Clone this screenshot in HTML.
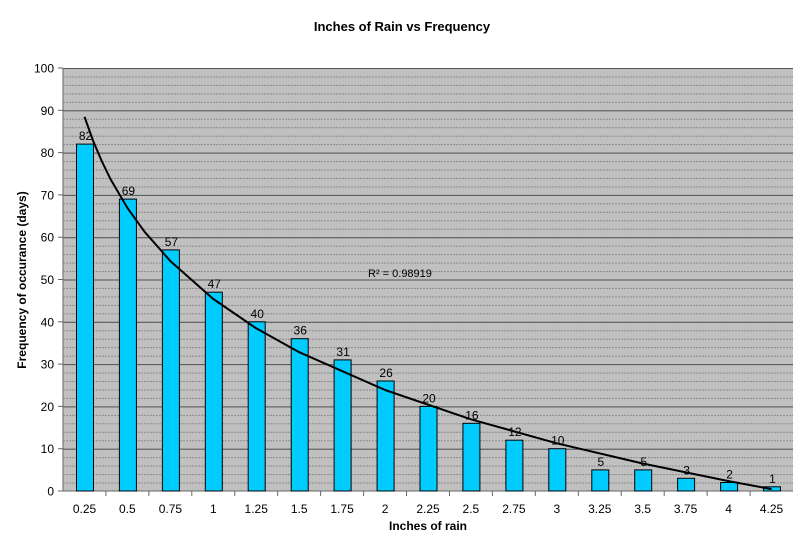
<!DOCTYPE html><html><head><style>body{margin:0;background:#fff}svg{display:block}text{font-family:"Liberation Sans",Arial,sans-serif}</style></head><body>
<svg width="800" height="544" xmlns="http://www.w3.org/2000/svg">
<defs>
<pattern id="mn" patternUnits="userSpaceOnUse" x="63" y="68" width="730" height="8.46"><line x1="0" x2="730" y1="0.5" y2="0.5" stroke="#7a7a7a" stroke-width="0.8" stroke-dasharray="2,1"/></pattern>
<pattern id="mj" patternUnits="userSpaceOnUse" x="63" y="68" width="730" height="42.3"><line x1="0" x2="730" y1="0.5" y2="0.5" stroke="#555" stroke-width="1"/></pattern>
</defs>
<rect x="63" y="68" width="730" height="423" fill="#c0c0c0"/>
<rect x="63" y="68" width="730" height="423" fill="url(#mn)"/>
<rect x="63" y="68" width="730" height="423" fill="url(#mj)"/>
<line x1="63" x2="63" y1="68" y2="491" stroke="#666"/>
<line x1="58" x2="793" y1="491" y2="491" stroke="#666"/>
<g stroke="#666">
<line x1="58" x2="63" y1="68" y2="68"/><line x1="58" x2="63" y1="110.3" y2="110.3"/><line x1="58" x2="63" y1="152.6" y2="152.6"/><line x1="58" x2="63" y1="194.9" y2="194.9"/><line x1="58" x2="63" y1="237.2" y2="237.2"/><line x1="58" x2="63" y1="279.5" y2="279.5"/><line x1="58" x2="63" y1="321.8" y2="321.8"/><line x1="58" x2="63" y1="364.1" y2="364.1"/><line x1="58" x2="63" y1="406.4" y2="406.4"/><line x1="58" x2="63" y1="448.7" y2="448.7"/>
<line x1="105.9" x2="105.9" y1="491" y2="496"/><line x1="148.9" x2="148.9" y1="491" y2="496"/><line x1="191.8" x2="191.8" y1="491" y2="496"/><line x1="234.8" x2="234.8" y1="491" y2="496"/><line x1="277.7" x2="277.7" y1="491" y2="496"/><line x1="320.6" x2="320.6" y1="491" y2="496"/><line x1="363.6" x2="363.6" y1="491" y2="496"/><line x1="406.5" x2="406.5" y1="491" y2="496"/><line x1="449.5" x2="449.5" y1="491" y2="496"/><line x1="492.4" x2="492.4" y1="491" y2="496"/><line x1="535.3" x2="535.3" y1="491" y2="496"/><line x1="578.3" x2="578.3" y1="491" y2="496"/><line x1="621.2" x2="621.2" y1="491" y2="496"/><line x1="664.2" x2="664.2" y1="491" y2="496"/><line x1="707.1" x2="707.1" y1="491" y2="496"/><line x1="750.1" x2="750.1" y1="491" y2="496"/>
</g>
<g font-size="12" text-anchor="end">
<text x="54" y="72.5">100</text><text x="54" y="114.8">90</text><text x="54" y="157.1">80</text><text x="54" y="199.4">70</text><text x="54" y="241.7">60</text><text x="54" y="284">50</text><text x="54" y="326.3">40</text><text x="54" y="368.6">30</text><text x="54" y="410.9">20</text><text x="54" y="453.2">10</text><text x="54" y="495.5">0</text>
</g>
<g fill="#00ccff" stroke="#000" stroke-width="1">
<rect x="76.5" y="144.1" width="17" height="346.9"/>
<rect x="119.4" y="199.1" width="17" height="291.9"/>
<rect x="162.4" y="249.9" width="17" height="241.1"/>
<rect x="205.3" y="292.2" width="17" height="198.8"/>
<rect x="248.2" y="321.8" width="17" height="169.2"/>
<rect x="291.2" y="338.7" width="17" height="152.3"/>
<rect x="334.1" y="359.9" width="17" height="131.1"/>
<rect x="377.1" y="381" width="17" height="110"/>
<rect x="420" y="406.4" width="17" height="84.6"/>
<rect x="462.9" y="423.3" width="17" height="67.7"/>
<rect x="505.9" y="440.2" width="17" height="50.8"/>
<rect x="548.8" y="448.7" width="17" height="42.3"/>
<rect x="591.8" y="469.9" width="17" height="21.1"/>
<rect x="634.7" y="469.9" width="17" height="21.1"/>
<rect x="677.6" y="478.3" width="17" height="12.7"/>
<rect x="720.6" y="482.5" width="17" height="8.5"/>
<rect x="763.5" y="486.8" width="17" height="4.2"/>
</g>
<g font-size="12" text-anchor="middle">
<text x="85.5" y="140.1">82</text><text x="128.4" y="195.1">69</text><text x="171.4" y="245.9">57</text><text x="214.3" y="288.2">47</text><text x="257.2" y="317.8">40</text><text x="300.2" y="334.7">36</text><text x="343.1" y="355.9">31</text><text x="386.1" y="377">26</text><text x="429" y="402.4">20</text><text x="471.9" y="419.3">16</text><text x="514.9" y="436.2">12</text><text x="557.8" y="444.7">10</text><text x="600.8" y="465.9">5</text><text x="643.7" y="465.9">5</text><text x="686.6" y="474.3">3</text><text x="729.6" y="478.5">2</text><text x="772.5" y="482.8">1</text>
</g>
<g font-size="12" text-anchor="middle">
<text x="84.5" y="513">0.25</text><text x="127.4" y="513">0.5</text><text x="170.4" y="513">0.75</text><text x="213.3" y="513">1</text><text x="256.2" y="513">1.25</text><text x="299.2" y="513">1.5</text><text x="342.1" y="513">1.75</text><text x="385.1" y="513">2</text><text x="428" y="513">2.25</text><text x="470.9" y="513">2.5</text><text x="513.9" y="513">2.75</text><text x="556.8" y="513">3</text><text x="599.8" y="513">3.25</text><text x="642.7" y="513">3.5</text><text x="685.6" y="513">3.75</text><text x="728.6" y="513">4</text><text x="771.5" y="513">4.25</text>
</g>
<polyline fill="none" stroke="#000" stroke-width="2" stroke-linejoin="round" points="84.5,116.8 93.1,140.8 101.7,161 110.2,178.6 127.4,207.9 144.6,231.8 170.4,261.1 213.3,299 256.2,328.3 299.2,352.2 385.1,390 470.9,419.3 556.8,443.3 642.7,463.5 728.6,481.1 771.5,489.1"/>
<text x="368" y="277" font-size="11">R² = 0.98919</text>
<text x="402" y="31" font-size="13" font-weight="bold" text-anchor="middle">Inches of Rain vs Frequency</text>
<text x="428" y="530" font-size="12" font-weight="bold" text-anchor="middle">Inches of rain</text>
<text transform="translate(26,280) rotate(-90)" font-size="12" font-weight="bold" text-anchor="middle">Frequency of occurance (days)</text>
</svg></body></html>
